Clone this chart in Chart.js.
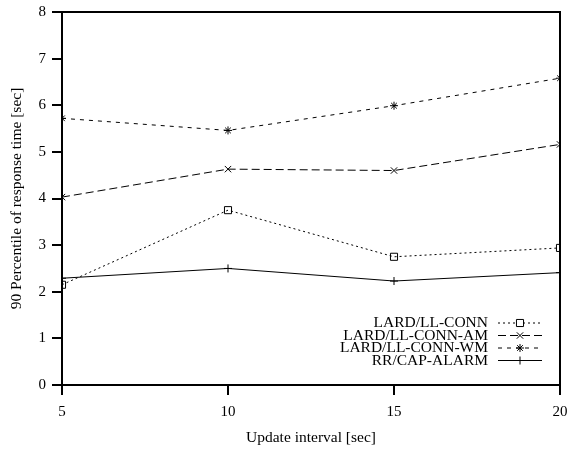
<!DOCTYPE html>
<html>
<head>
<meta charset="utf-8">
<script src="https://cdn.jsdelivr.net/npm/chart.js@4"></script>
<style>
  html, body { margin: 0; padding: 0; background: #fff; }
  #wrap { width: 569px; height: 450px; }
</style>
</head>
<body>
<div id="wrap"><canvas id="mychart"></canvas></div>
<script>
// データ
const intervals = [5, 10, 15, 20];
const llConn   = [2.15, 3.75, 2.75, 2.94];
const llConnAM = [4.03, 4.63, 4.60, 5.16];
const llConnWM = [5.72, 5.46, 5.99, 6.58];
const rrCap    = [2.29, 2.50, 2.23, 2.41];
const seriesNames = ['LARD/LL-CONN', 'LARD/LL-CONN-AM', 'LARD/LL-CONN-WM', 'RR/CAP-ALARM'];
const yTicks = [0, 1, 2, 3, 4, 5, 6, 7, 8];
const xTicks = [5, 10, 15, 20];

const FONT = 'Liberation Serif';

function pts(vals) {
  return vals.map((v, i) => ({ x: intervals[i], y: v }));
}

const styles = [
  { dash: [2, 3], point: 'rect', r: 5 },
  { dash: [8, 4], point: 'crossRot', r: 4.5 },
  { dash: [4, 5], point: 'star', r: 4 },
  { dash: [], point: 'cross', r: 4 }
];
const values = [llConn, llConnAM, llConnWM, rrCap];

const datasets = values.map((v, i) => ({
  label: seriesNames[i],
  data: pts(v),
  borderColor: '#000',
  borderWidth: 1,
  borderDash: styles[i].dash,
  pointStyle: styles[i].point,
  pointRadius: styles[i].r,
  pointBorderColor: '#000',
  pointBackgroundColor: 'rgba(0,0,0,0)',
  pointBorderWidth: 1,
  fill: false,
  tension: 0
}));

// 枠と凡例
const framePlugin = {
  id: 'frame',
  afterDraw(chart) {
    const c = chart.ctx;
    const a = chart.chartArea;
    c.save();
    c.strokeStyle = '#000';
    c.lineWidth = 2;
    c.setLineDash([]);
    c.strokeRect(a.left, a.top, a.right - a.left, a.bottom - a.top);

    // 凡例（右下）
    c.font = '15.5px "' + FONT + '"';
    c.textAlign = 'right';
    c.textBaseline = 'middle';
    const ys = [323, 335.5, 348, 360.5];
    for (let i = 0; i < seriesNames.length; i++) {
      c.fillStyle = '#000';
      c.fillText(seriesNames[i], 488, ys[i]);
      c.lineWidth = 1;
      c.setLineDash(styles[i].dash);
      c.beginPath();
      c.moveTo(498, ys[i]);
      c.lineTo(542, ys[i]);
      c.stroke();
      c.setLineDash([]);
      c.fillStyle = '#fff';
      Chart.helpers.drawPoint(c, { pointStyle: styles[i].point, radius: styles[i].r, borderWidth: 1 }, 520, ys[i]);
    }
    c.restore();
  }
};

const ctx = document.getElementById('mychart');
const chart = new Chart(ctx, {
  type: 'line',
  data: { datasets: datasets },
  plugins: [framePlugin],
  options: {
    responsive: true,
    maintainAspectRatio: false,
    animation: false,
    layout: { padding: { left: 0, right: 9, top: 12, bottom: 0 } },
    plugins: { legend: { display: false }, tooltip: { enabled: false } },
    scales: {
      x: {
        type: 'linear',
        min: 5, max: 20,
        afterBuildTicks: s => { s.ticks = xTicks.map(v => ({ value: v })); },
        afterFit: s => { s.height = 65; s.paddingLeft = 0; s.paddingRight = 0; },
        grid: { drawOnChartArea: false, tickLength: 10, color: '#000', lineWidth: 2 },
        border: { display: false },
        ticks: { color: '#000', font: { family: FONT, size: 15 }, padding: 8, maxRotation: 0 },
        title: { display: true, text: 'Update interval [sec]', color: '#000', font: { family: FONT, size: 15.5 }, padding: { top: 4, bottom: 3 } }
      },
      y: {
        min: 0, max: 8,
        afterBuildTicks: s => { s.ticks = yTicks.map(v => ({ value: v })); },
        afterFit: s => { s.width = 62; s.paddingTop = 0; s.paddingBottom = 0; },
        grid: { drawOnChartArea: false, tickLength: 10, color: '#000', lineWidth: 2 },
        border: { display: false },
        ticks: { color: '#000', font: { family: FONT, size: 15 }, padding: 6 },
        title: { display: true, text: '90 Percentile of response time [sec]', color: '#000', font: { family: FONT, size: 15.5 }, padding: { top: 8, bottom: 4 } }
      }
    }
  }
});
</script>
</body>
</html>
